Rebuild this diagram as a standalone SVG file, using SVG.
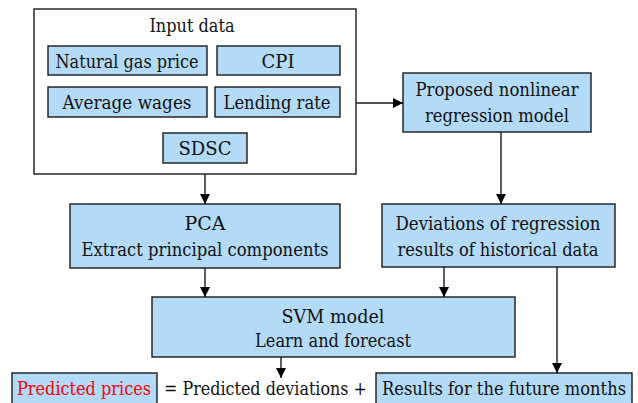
<svg xmlns="http://www.w3.org/2000/svg" width="638" height="403" viewBox="0 0 638 403">
<style>
.box{fill:#b3dbf7;stroke:#1a1a1a;stroke-width:1.4}
.frame{fill:#fff;stroke:#1a1a1a;stroke-width:1.4}
text{font-family:'DejaVu Serif',serif;font-size:19px;fill:#111}
.c{text-anchor:middle}
.red{fill:#ff0000}
.conn{stroke:#1a1a1a;stroke-width:1.4;fill:none;marker-end:url(#ah)}
</style>
<defs>
<marker id="ah" viewBox="0 0 10 10" refX="10" refY="5" markerWidth="10" markerHeight="10" markerUnits="userSpaceOnUse" orient="auto">
<path d="M0,0 L10,5 L0,10 z" fill="#000"/>
</marker>
</defs>
<rect width="638" height="403" fill="#fff"/>
<g id="input">
<rect class="frame" x="34" y="9" width="322" height="165"/>
<text class="c" x="192" y="32" textLength="85" lengthAdjust="spacingAndGlyphs">Input data</text>
</g>
<g id="gas"><rect class="box" x="48" y="46" width="159" height="29"/><text class="c" x="127" y="68" textLength="143" lengthAdjust="spacingAndGlyphs">Natural gas price</text></g>
<g id="cpi"><rect class="box" x="217" y="46" width="123" height="29"/><text class="c" x="278" y="68" textLength="33" lengthAdjust="spacingAndGlyphs">CPI</text></g>
<g id="wages"><rect class="box" x="48" y="87" width="159" height="30"/><text class="c" x="127" y="109" textLength="129" lengthAdjust="spacingAndGlyphs">Average wages</text></g>
<g id="lending"><rect class="box" x="215" y="87" width="125" height="30"/><text class="c" x="277" y="109" textLength="107" lengthAdjust="spacingAndGlyphs">Lending rate</text></g>
<g id="sdsc"><rect class="box" x="163" y="133" width="84" height="30"/><text class="c" x="205" y="155" textLength="53" lengthAdjust="spacingAndGlyphs">SDSC</text></g>
<g id="proposed"><rect class="box" x="403" y="73" width="188" height="59"/><text class="c" x="497" y="96" textLength="163" lengthAdjust="spacingAndGlyphs">Proposed nonlinear</text><text class="c" x="497" y="122" textLength="144" lengthAdjust="spacingAndGlyphs">regression model</text></g>
<g id="deviations"><rect class="box" x="382" y="204" width="233" height="63"/><text class="c" x="498" y="230" textLength="205" lengthAdjust="spacingAndGlyphs">Deviations of regression</text><text class="c" x="498" y="256" textLength="201" lengthAdjust="spacingAndGlyphs">results of historical data</text></g>
<g id="pca"><rect class="box" x="70" y="204" width="270" height="64"/><text class="c" x="205" y="230" textLength="41" lengthAdjust="spacingAndGlyphs">PCA</text><text class="c" x="205" y="256" textLength="247" lengthAdjust="spacingAndGlyphs">Extract principal components</text></g>
<g id="svm"><rect class="box" x="152" y="297" width="363" height="60"/><text class="c" x="333" y="323" textLength="103" lengthAdjust="spacingAndGlyphs">SVM model</text><text class="c" x="333" y="347" textLength="156" lengthAdjust="spacingAndGlyphs">Learn and forecast</text></g>
<g id="predicted"><rect class="box" x="12" y="373" width="145" height="40"/><text class="c red" x="84" y="395" textLength="134" lengthAdjust="spacingAndGlyphs">Predicted prices</text></g>
<g id="equation"><text x="164" y="395" textLength="203" lengthAdjust="spacingAndGlyphs">= Predicted deviations +</text></g>
<g id="results"><rect class="box" x="376" y="373" width="256" height="40"/><text class="c" x="504" y="395" textLength="244" lengthAdjust="spacingAndGlyphs">Results for the future months</text></g>
<g id="connectors">
<line class="conn" x1="356" y1="103" x2="403" y2="103"/>
<line class="conn" x1="205" y1="174" x2="205" y2="204"/>
<line class="conn" x1="501" y1="132" x2="501" y2="204"/>
<line class="conn" x1="205" y1="268" x2="205" y2="297"/>
<line class="conn" x1="444" y1="267" x2="444" y2="297"/>
<line class="conn" x1="557" y1="267" x2="557" y2="373"/>
<line class="conn" x1="281" y1="357" x2="281" y2="378"/>
</g>
</svg>
